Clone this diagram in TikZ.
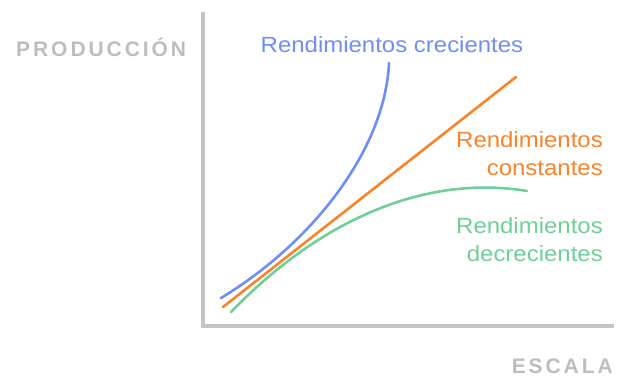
\documentclass[tikz,border=0pt]{standalone}
\usepackage{fontspec}
\setmainfont{Liberation Sans}
\usepackage{xcolor}
\definecolor{ejegris}{HTML}{C4C4C4}
\definecolor{textogris}{HTML}{BDBDBD}
\definecolor{azul}{HTML}{6E8EF2}
\definecolor{naranja}{HTML}{F7842A}
\definecolor{verde}{HTML}{6FCF97}
\tikzset{
	eje/.style={line width=4pt, ejegris},
	curva/.style={line width=2.6pt, line cap=round},
	rotulo/.style={font=\fontsize{22}{28}\selectfont\addfontfeature{FakeStretch=1.09}, inner sep=0pt, align=right},
	titulo/.style={font=\fontsize{21}{24}\bfseries\addfontfeature{LetterSpace=14}, textogris, inner sep=0pt}
}

\begin{document}
\begin{tikzpicture}[x=1pt, y=-1pt]
					\useasboundingbox (0, 0) rectangle (618, 377);
					\draw[eje] (203, 12)--(203, 326)--(614, 326);
					\draw[curva, azul] (221, 298) .. controls (312, 243) and (385, 150) .. (389, 63);
					\draw[curva, naranja] (223, 307)--(516, 77);
					\draw[curva, verde] (231, 312) .. controls (325, 215) and (430, 175) .. (527, 191);
					\node[titulo, anchor=base west] (prod) at (16, 57) {PRODUCCIÓN};
					\node[titulo, anchor=base east] (esc) at (613, 373) {ESCALA};
					\node[rotulo, azul, anchor=base] (crec) at (392, 53) {Rendimientos crecientes};
					\node[rotulo, naranja, anchor=north east] (const) at (603, 131) {Rendimientos\\constantes};
					\node[rotulo, verde, anchor=north east] (decr) at (603, 217) {Rendimientos\\decrecientes};
			\end{tikzpicture}
\end{document}
